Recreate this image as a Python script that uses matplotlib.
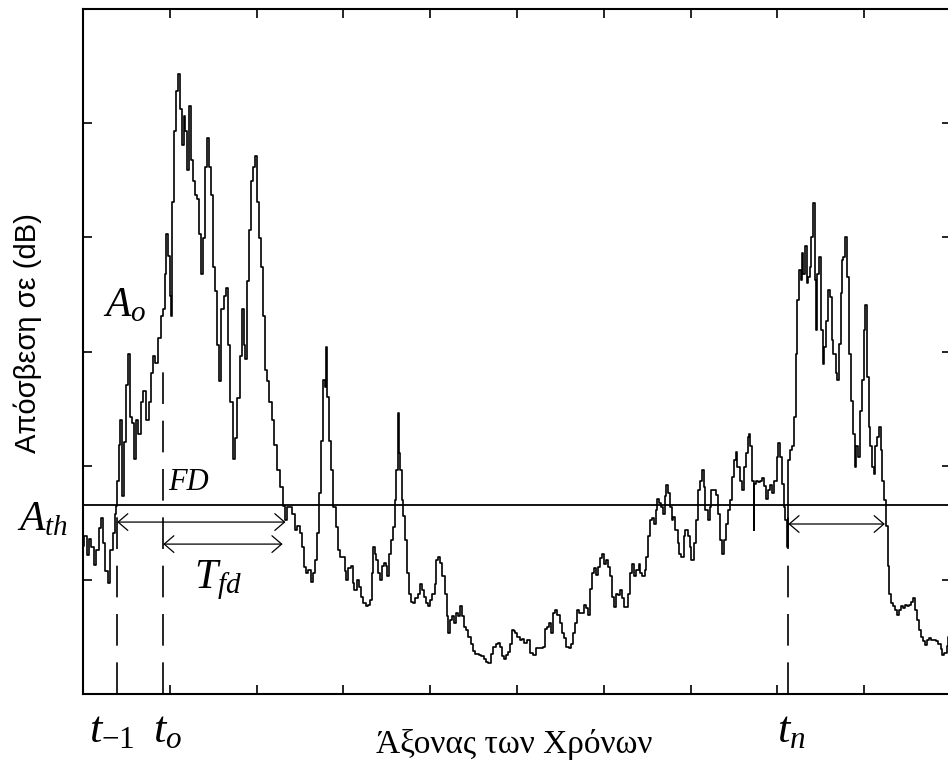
import matplotlib
matplotlib.use("Agg")
import matplotlib.pyplot as plt

plt.rcParams['mathtext.fontset'] = 'custom'
plt.rcParams['mathtext.rm'] = 'Liberation Serif'
plt.rcParams['mathtext.it'] = 'Liberation Serif:italic'

# time axis (arbitrary units, 10 divisions) and received level
t_vals = [0.00, 0.03, 0.06, 0.08, 0.11, 0.14, 0.17, 0.20, 0.22, 0.24, 0.27, 0.30, 0.33, 0.36, 0.38, 0.385,
          0.40, 0.42, 0.44, 0.46, 0.48, 0.51, 0.53, 0.56, 0.58, 0.60, 0.62, 0.65, 0.68, 0.71, 0.74, 0.77,
          0.80, 0.82, 0.85, 0.88, 0.91, 0.93, 0.95, 0.97, 0.99, 1.01, 1.02, 1.04, 1.06, 1.08, 1.11, 1.12,
          1.15, 1.17, 1.19, 1.21, 1.23, 1.25, 1.28, 1.30, 1.32, 1.35, 1.37, 1.39, 1.42, 1.44, 1.46, 1.48,
          1.51, 1.53, 1.56, 1.58, 1.61, 1.63, 1.66, 1.68, 1.71, 1.74, 1.76, 1.79, 1.82, 1.84, 1.86, 1.88,
          1.90, 1.92, 1.95, 1.97, 1.99, 2.02, 2.04, 2.06, 2.08, 2.11, 2.13, 2.16, 2.19, 2.22, 2.25, 2.28,
          2.32, 2.33, 2.36, 2.39, 2.43, 2.46, 2.48, 2.51, 2.54, 2.55, 2.58, 2.61, 2.64, 2.66, 2.69, 2.71,
          2.73, 2.75, 2.78, 2.79, 2.80, 2.82, 2.84, 2.87, 2.90, 2.92, 2.95, 2.98, 3.01, 3.03, 3.04, 3.07,
          3.10, 3.11, 3.14, 3.17, 3.19, 3.22, 3.24, 3.27, 3.29, 3.32, 3.33, 3.35, 3.37, 3.39, 3.41, 3.43,
          3.45, 3.48, 3.50, 3.51, 3.54, 3.56, 3.58, 3.60, 3.62, 3.63, 3.65, 3.66, 3.68, 3.70, 3.72, 3.74,
          3.76, 3.79, 3.81, 3.85, 3.87, 3.90, 3.92, 3.94, 3.97, 3.99, 4.01, 4.04, 4.06, 4.08, 4.10, 4.13,
          4.15, 4.18, 4.20, 4.22, 4.24, 4.26, 4.29, 4.31, 4.33, 4.35, 4.38, 4.40, 4.42, 4.45, 4.48, 4.50,
          4.53, 4.55, 4.58, 4.60, 4.63, 4.66, 4.68, 4.71, 4.74, 4.77, 4.79, 4.82, 4.84, 4.86, 4.89, 4.91,
          4.93, 4.95, 4.97, 4.99, 5.02, 5.04, 5.07, 5.10, 5.13, 5.17, 5.20, 5.23, 5.26, 5.29, 5.31, 5.33,
          5.36, 5.38, 5.41, 5.43, 5.45, 5.48, 5.50, 5.53, 5.55, 5.58, 5.61, 5.63, 5.65, 5.68, 5.71, 5.73,
          5.76, 5.78, 5.81, 5.83, 5.85, 5.88, 5.90, 5.92, 5.95, 5.97, 5.99, 6.02, 6.04, 6.06, 6.08, 6.11,
          6.13, 6.15, 6.18, 6.20, 6.22, 6.25, 6.27, 6.29, 6.32, 6.34, 6.36, 6.39, 6.41, 6.43, 6.46, 6.48,
          6.50, 6.52, 6.54, 6.56, 6.59, 6.61, 6.62, 6.65, 6.67, 6.69, 6.71, 6.73, 6.75, 6.77, 6.79, 6.81,
          6.84, 6.86, 6.88, 6.91, 6.93, 6.95, 6.98, 7.00, 7.02, 7.05, 7.07, 7.09, 7.12, 7.14, 7.16, 7.18,
          7.21, 7.23, 7.25, 7.28, 7.30, 7.32, 7.35, 7.37, 7.39, 7.42, 7.44, 7.46, 7.49, 7.51, 7.53, 7.55,
          7.58, 7.60, 7.62, 7.65, 7.67, 7.68, 7.70, 7.72, 7.73, 7.74, 7.77, 7.79, 7.81, 7.84, 7.86, 7.88,
          7.91, 7.93, 7.95, 7.98, 8.00, 8.02, 8.04, 8.07, 8.08, 8.10, 8.11, 8.13, 8.16, 8.18, 8.20, 8.22,
          8.24, 8.26, 8.28, 8.29, 8.31, 8.33, 8.35, 8.36, 8.38, 8.40, 8.42, 8.44, 8.45, 8.47, 8.49, 8.51,
          8.53, 8.55, 8.57, 8.59, 8.62, 8.63, 8.66, 8.68, 8.70, 8.72, 8.74, 8.75, 8.77, 8.79, 8.82, 8.84,
          8.86, 8.88, 8.90, 8.92, 8.94, 8.96, 8.99, 9.00, 9.02, 9.04, 9.06, 9.08, 9.11, 9.12, 9.14, 9.16,
          9.18, 9.20, 9.22, 9.24, 9.26, 9.28, 9.30, 9.32, 9.35, 9.37, 9.39, 9.41, 9.44, 9.46, 9.48, 9.51,
          9.53, 9.55, 9.58, 9.59, 9.62, 9.64, 9.66, 9.69, 9.71, 9.73, 9.76, 9.78, 9.81, 9.84, 9.87, 9.89,
          9.91, 9.94, 9.96, 9.97, 10.0]
level_vals = [1.30, 1.38, 1.22, 1.36, 1.29, 1.13, 1.26, 1.45, 1.54, 1.32, 1.08, 0.97, 1.26, 1.41, 1.58, 1.65,
              1.87, 2.18, 2.40, 1.73, 2.21, 2.71, 2.98, 2.43, 2.37, 2.06, 2.40, 2.28, 2.56, 2.65, 2.40, 2.56,
              2.81, 2.96, 2.90, 3.12, 3.31, 3.37, 3.68, 4.03, 3.84, 3.49, 3.31, 4.31, 4.93, 5.28, 5.43, 5.12,
              4.81, 5.06, 4.93, 4.59, 5.15, 4.68, 4.49, 4.37, 4.34, 4.03, 3.68, 3.99, 4.62, 4.87, 4.62, 4.37,
              3.74, 3.53, 3.06, 2.74, 3.37, 3.49, 3.56, 3.06, 2.56, 2.06, 2.24, 2.59, 2.96, 3.37, 3.06, 2.93,
              3.62, 4.06, 4.49, 4.62, 4.71, 4.31, 3.99, 3.74, 3.31, 2.84, 2.74, 2.56, 2.40, 2.18, 1.96, 1.81,
              1.65, 1.52, 1.64, 1.64, 1.58, 1.44, 1.47, 1.41, 1.29, 1.11, 1.06, 1.09, 0.98, 1.06, 1.17, 1.41,
              1.76, 2.22, 2.75, 2.69, 3.04, 2.60, 2.22, 1.96, 1.64, 1.46, 1.26, 1.20, 1.20, 1.08, 1.00, 1.10,
              1.12, 0.97, 0.91, 1.00, 0.94, 0.85, 0.80, 0.77, 0.78, 0.82, 1.06, 1.29, 1.23, 1.17, 1.06, 1.00,
              1.12, 1.15, 1.12, 1.03, 1.23, 1.35, 1.46, 1.70, 1.96, 2.46, 2.11, 1.96, 1.70, 1.56, 1.35, 1.06,
              0.88, 0.81, 0.80, 0.84, 0.88, 0.96, 0.91, 0.85, 0.80, 0.77, 0.82, 0.88, 0.96, 1.17, 1.20, 1.15,
              1.03, 0.88, 0.68, 0.53, 0.65, 0.68, 0.62, 0.71, 0.68, 0.77, 0.68, 0.59, 0.56, 0.50, 0.44, 0.38,
              0.35, 0.35, 0.34, 0.33, 0.31, 0.28, 0.27, 0.35, 0.41, 0.44, 0.45, 0.41, 0.33, 0.31, 0.34, 0.37,
              0.44, 0.56, 0.55, 0.53, 0.50, 0.47, 0.48, 0.45, 0.47, 0.36, 0.34, 0.40, 0.40, 0.40, 0.41, 0.57,
              0.59, 0.62, 0.53, 0.71, 0.74, 0.69, 0.62, 0.53, 0.49, 0.41, 0.40, 0.44, 0.53, 0.62, 0.74, 0.71,
              0.71, 0.78, 0.75, 0.69, 0.92, 1.06, 1.10, 1.04, 1.11, 1.19, 1.23, 1.14, 1.17, 1.11, 1.03, 0.85,
              0.76, 0.88, 0.87, 0.91, 0.84, 0.76, 0.76, 0.88, 1.06, 1.14, 1.03, 1.09, 1.14, 1.06, 1.03, 1.09,
              1.20, 1.38, 1.52, 1.54, 1.49, 1.61, 1.71, 1.67, 1.64, 1.58, 1.73, 1.83, 1.76, 1.64, 1.52, 1.55,
              1.44, 1.32, 1.23, 1.20, 1.38, 1.44, 1.38, 1.29, 1.17, 1.32, 1.52, 1.79, 1.87, 1.96, 1.81, 1.61,
              1.52, 1.64, 1.79, 1.79, 1.74, 1.58, 1.35, 1.23, 1.35, 1.49, 1.61, 1.70, 1.90, 2.05, 2.12, 1.99,
              1.87, 1.79, 1.99, 2.11, 2.25, 2.28, 2.17, 1.87, 1.44, 1.84, 1.87, 1.86, 1.87, 1.89, 1.82, 1.71,
              1.79, 1.83, 1.76, 1.87, 2.08, 2.20, 2.08, 1.84, 1.64, 1.52, 1.29, 2.05, 2.14, 2.17, 2.43, 2.98,
              3.45, 3.71, 3.63, 3.86, 3.68, 3.92, 3.60, 3.65, 3.74, 4.00, 4.30, 3.63, 3.19, 3.68, 3.83, 3.19,
              2.89, 3.04, 3.27, 3.54, 3.48, 3.10, 2.98, 2.81, 2.75, 3.07, 3.51, 3.80, 3.83, 4.00, 3.65, 2.98,
              2.57, 2.28, 1.99, 2.17, 2.08, 2.48, 2.75, 3.19, 3.41, 2.78, 2.34, 2.17, 1.99, 1.93, 2.17, 2.25,
              2.34, 2.14, 1.87, 1.70, 1.47, 1.12, 0.88, 0.80, 0.77, 0.74, 0.69, 0.74, 0.77, 0.75, 0.78, 0.77,
              0.78, 0.81, 0.84, 0.74, 0.65, 0.56, 0.50, 0.46, 0.43, 0.47, 0.49, 0.47, 0.47, 0.46, 0.44, 0.39,
              0.34, 0.36, 0.42, 0.50, 0.45]

threshold = 1.655
t_minus1, t_0, t_n = 0.393, 0.924, 8.126
t_fd_end, fd_end, tn_end = 2.30, 2.333, 9.238
a0_level = 2.95

fig = plt.figure(figsize=(9.48, 7.61), dpi=100)
ax = fig.add_axes([83 / 948, 1 - 694 / 761, 868 / 948, 685 / 761])

ax.plot(t_vals, level_vals, color='black', lw=1.2, drawstyle='steps-mid')
ax.axhline(threshold, color='black', lw=1.3)

# dashed markers for t_-1, t_o, t_n
ax.plot([t_minus1, t_minus1], [0, threshold], color='black', lw=1.2, dashes=(19, 10))
ax.plot([t_0, t_0], [0, a0_level], color='black', lw=1.2, dashes=(19, 10))
ax.plot([t_n, t_n], [0, threshold], color='black', lw=1.2, dashes=(19, 10))

arrow = dict(arrowstyle='<->,head_length=0.7,head_width=0.6', color='black', lw=0.9,
             shrinkA=0, shrinkB=0)
ax.annotate('', xy=(fd_end, 1.506), xytext=(t_minus1, 1.506), arrowprops=arrow)
ax.annotate('', xy=(t_fd_end, 1.313), xytext=(t_0, 1.313), arrowprops=arrow)
ax.annotate('', xy=(tn_end, 1.489), xytext=(t_n, 1.489), arrowprops=arrow)

ax.set_xlim(0, 10)
ax.set_ylim(0, 6)
ax.set_xticks(range(0, 11))
ax.set_yticks(range(0, 7))
ax.tick_params(direction='in', length=6.5, width=1.2, top=True, right=True,
               labelbottom=False, labelleft=False)
for s in ax.spines.values():
    s.set_linewidth(1.5)

serif = 'Liberation Serif'
ax.text(0.485, 3.41, r'$A_o$', fontsize=30, ha='center', va='center')
ax.text(-0.47, 1.54, r'$A_{th}$', fontsize=30, ha='center', va='center')
ax.text(1.21, 1.85, 'FD', fontsize=22, family=serif, style='italic', ha='center', va='center')
ax.text(1.56, 1.0, r'$T_{fd}$', fontsize=30, ha='center', va='center')
ax.text(0.33, -0.42, r'$t_{-1}$', fontsize=32, ha='center', va='baseline')
ax.text(0.97, -0.42, r'$t_o$', fontsize=32, ha='center', va='baseline')
ax.text(8.16, -0.42, r'$t_n$', fontsize=32, ha='center', va='baseline')

fig.text(514 / 948, 1 - 745 / 761, 'Άξονας των Χρόνων', fontsize=24, family=serif,
         ha='center', va='center')
fig.text(28 / 948, 1 - 333 / 761, 'Απόσβεση σε (dB)', fontsize=21, family='Liberation Sans',
         rotation=90, ha='center', va='center')

fig.savefig('out.png', dpi=100)
